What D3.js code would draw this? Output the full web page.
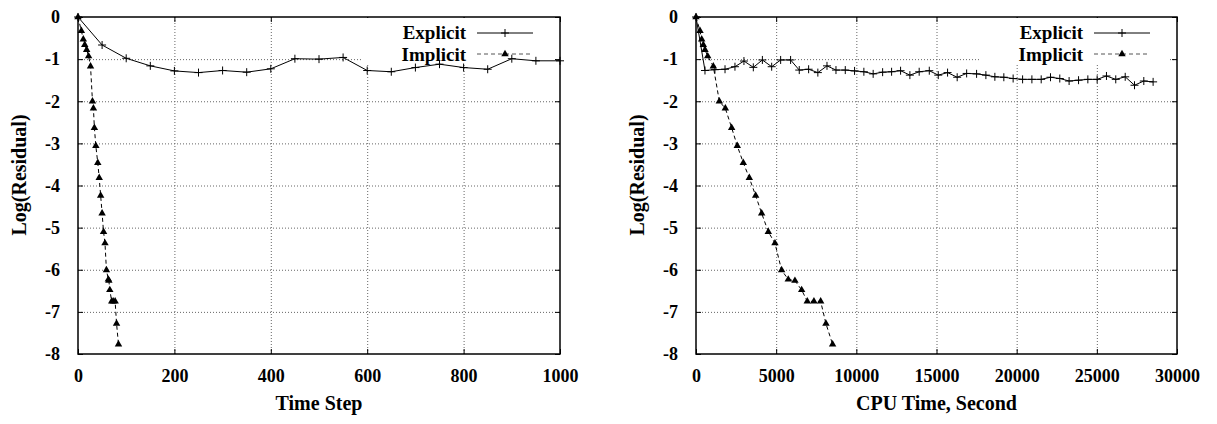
<!DOCTYPE html>
<html>
<head>
<meta charset="utf-8">
<script src="https://cdn.jsdelivr.net/npm/d3@7/dist/d3.min.js"></script>
<style>
  html, body { margin: 0; padding: 0; background: #fff; }
  svg { display: block; }
  text { font-family: "Liberation Serif", "Times New Roman", serif; font-weight: bold; fill: #000; }
</style>
</head>
<body>
<svg id="chart" width="1217" height="424"></svg>
<script>
// Residual history: explicit vs implicit scheme
const yTicks = [0, -1, -2, -3, -4, -5, -6, -7, -8];
const stepTicks = [0, 200, 400, 600, 800, 1000];
const cpuTicks = [0, 5000, 10000, 15000, 20000, 25000, 30000];
const seriesNames = ["Explicit", "Implicit"];

// Explicit scheme, sampled every 50 time steps
const explicitSteps = [0, 50, 100, 150, 200, 250, 300, 350, 400, 450, 500,
  550, 600, 650, 700, 750, 800, 850, 900, 950, 1000];
const explicitStepResidual = [0, -0.665, -0.98, -1.16, -1.28, -1.32, -1.27, -1.31, -1.23, -0.99, -1.0,
  -0.96, -1.27, -1.30, -1.20, -1.12, -1.20, -1.24, -0.99, -1.04, -1.04];

// Implicit scheme
const implicitSteps = [0, 7, 11, 14, 18, 22, 26, 30, 32, 34, 37, 41, 44, 47, 50,
  53, 56, 59, 63, 64, 66, 70, 73, 77, 80, 84];
const implicitCpu = [0, 250, 355, 455, 560, 730, 1080, 1455, 1830, 2225, 2575, 2950, 3325, 3720, 4095,
  4510, 4925, 5340, 5755, 6170, 6590, 6940, 7355, 7775, 8105, 8520];
const implicitResidual = [0, -0.33, -0.53, -0.66, -0.78, -0.93, -1.17, -2.0, -2.17, -2.63, -3.06, -3.46, -3.82, -4.24, -4.66,
  -5.1, -5.37, -6.01, -6.23, -6.26, -6.48, -6.75, -6.75, -6.75, -7.28, -7.77];

// Explicit scheme against CPU time
const explicitCpu = [0, 560, 1180, 1810, 2430, 2990, 3575, 4140, 4720, 5280, 5900, 6440, 7025, 7600, 8170,
  8730, 9310, 9890, 10470, 11050, 11640, 12200, 12760, 13340, 13920, 14550, 15110, 15690, 16290, 16880,
  17500, 18080, 18640, 19200, 19780, 20370, 20950, 21530, 22110, 22690, 23270, 23860, 24440, 25020, 25600,
  26180, 26770, 27350, 27930, 28510];
const explicitCpuResidual = [0, -1.27, -1.25, -1.24, -1.18, -1.045, -1.195, -1.02, -1.18, -1.02, -1.02, -1.26, -1.24, -1.32, -1.16,
  -1.26, -1.26, -1.28, -1.30, -1.35, -1.31, -1.30, -1.275, -1.38, -1.30, -1.275, -1.38, -1.32, -1.43, -1.34,
  -1.35, -1.38, -1.42, -1.43, -1.46, -1.48, -1.48, -1.48, -1.43, -1.46, -1.52, -1.50, -1.48, -1.48, -1.40,
  -1.48, -1.42, -1.62, -1.52, -1.54];

const svg = d3.select("#chart");
const plusPath = "M-4,0H4M0,-4V4";
const tri = d3.symbol().type(d3.symbolTriangle).size(24);
const plain = d => String(d); // ASCII hyphen for negatives

function panel(cfg) {
  const x = d3.scaleLinear().domain(cfg.xDomain).range([cfg.left, cfg.right]);
  const y = d3.scaleLinear().domain([0, -8]).range([17, 354]);
  const h = y(-8) - y(0), w = cfg.right - cfg.left;
  const g = svg.append("g");

  // dotted grid
  const gx = g.append("g").attr("transform", `translate(0,${y(-8)})`)
    .call(d3.axisBottom(x).tickValues(cfg.xTicks.slice(1, -1)).tickSize(-h).tickFormat(""));
  const gy = g.append("g").attr("transform", `translate(${cfg.left},0)`)
    .call(d3.axisLeft(y).tickValues(yTicks.slice(1, -1)).tickSize(-w).tickFormat(""));
  [gx, gy].forEach(a => {
    a.select(".domain").remove();
    a.selectAll("line").attr("stroke", "#666").attr("stroke-width", 1).attr("stroke-dasharray", "1,2");
  });

  // inward tick marks on all four sides
  const tk = [
    [d3.axisBottom(x).tickValues(cfg.xTicks), `translate(0,${y(-8)})`],
    [d3.axisTop(x).tickValues(cfg.xTicks), `translate(0,${y(0)})`],
    [d3.axisLeft(y).tickValues(yTicks), `translate(${cfg.left},0)`],
    [d3.axisRight(y).tickValues(yTicks), `translate(${cfg.right},0)`]
  ];
  tk.forEach(([ax, tr]) => {
    const a = g.append("g").attr("transform", tr).call(ax.tickSize(-5).tickFormat(""));
    a.select(".domain").remove();
    a.selectAll("line").attr("stroke", "#000");
  });

  // tick labels
  const lx = g.append("g").attr("transform", `translate(0,${y(-8)})`)
    .call(d3.axisBottom(x).tickValues(cfg.xTicks).tickSize(0).tickPadding(15).tickFormat(plain));
  const ly = g.append("g").attr("transform", `translate(${cfg.left},0)`)
    .call(d3.axisLeft(y).tickValues(yTicks).tickSize(0).tickPadding(18).tickFormat(plain));
  [lx, ly].forEach(a => {
    a.select(".domain").remove();
    a.selectAll("text").attr("font-size", 18).attr("font-family", null).attr("fill", "#000");
  });

  // frame
  g.append("rect").attr("x", cfg.left).attr("y", y(0)).attr("width", w).attr("height", h)
    .attr("fill", "none").attr("stroke", "#000").attr("stroke-width", 1.5);

  // axis titles
  g.append("text").attr("x", (cfg.left + cfg.right) / 2).attr("y", 410)
    .attr("text-anchor", "middle").attr("font-size", 20).text(cfg.xLabel);
  g.append("text").attr("transform", `translate(${cfg.left - 52},${175}) rotate(-90)`)
    .attr("text-anchor", "middle").attr("font-size", 20).text("Log(Residual)");

  // key
  const kx = cfg.right;
  g.append("rect").attr("x", kx - 197).attr("y", y(0) + 1).attr("width", 190).attr("height", 46).attr("fill", "#fff");
  const rows = [
    { name: seriesNames[0], ty: 39, ly: 33, dash: null, mark: "plus" },
    { name: seriesNames[1], ty: 61, ly: 54, dash: "4,3", mark: "tri" }
  ];
  rows.forEach(r => {
    g.append("text").attr("x", kx - 94).attr("y", r.ty).attr("text-anchor", "end")
      .attr("font-size", 19).text(r.name);
    g.append("line").attr("x1", kx - 83).attr("x2", kx - 27).attr("y1", r.ly).attr("y2", r.ly)
      .attr("stroke", r.dash ? "#555" : "#000").attr("stroke-width", 1).attr("stroke-dasharray", r.dash);
    if (r.mark === "plus") {
      g.append("path").attr("d", plusPath).attr("transform", `translate(${kx - 55},${r.ly})`)
        .attr("stroke", "#000").attr("fill", "none");
    } else {
      g.append("path").attr("d", tri()).attr("transform", `translate(${kx - 55},${r.ly})`).attr("fill", "#000");
    }
  });

  // series
  const line = d3.line().x(d => x(d[0])).y(d => y(d[1]));
  const exp = cfg.expX.map((v, i) => [v, cfg.expY[i]]);
  const imp = cfg.impX.map((v, i) => [v, cfg.impY[i]]);

  g.append("path").datum(imp).attr("d", line).attr("fill", "none")
    .attr("stroke", "#000").attr("stroke-width", 1).attr("stroke-dasharray", "4,3");
  g.append("path").datum(exp).attr("d", line).attr("fill", "none")
    .attr("stroke", "#000").attr("stroke-width", 1);

  g.selectAll(".pm").data(exp).join("path").attr("d", plusPath)
    .attr("transform", d => `translate(${x(d[0])},${y(d[1])})`)
    .attr("stroke", "#000").attr("fill", "none");
  g.selectAll(".tm").data(imp).join("path").attr("d", tri())
    .attr("transform", d => `translate(${x(d[0])},${y(d[1])})`).attr("fill", "#000");
}

panel({
  left: 78, right: 560, xDomain: [0, 1000], xTicks: stepTicks, xLabel: "Time Step",
  expX: explicitSteps, expY: explicitStepResidual, impX: implicitSteps, impY: implicitResidual
});
panel({
  left: 696, right: 1177, xDomain: [0, 30000], xTicks: cpuTicks, xLabel: "CPU Time, Second",
  expX: explicitCpu, expY: explicitCpuResidual, impX: implicitCpu, impY: implicitResidual
});
</script>
</body>
</html>
